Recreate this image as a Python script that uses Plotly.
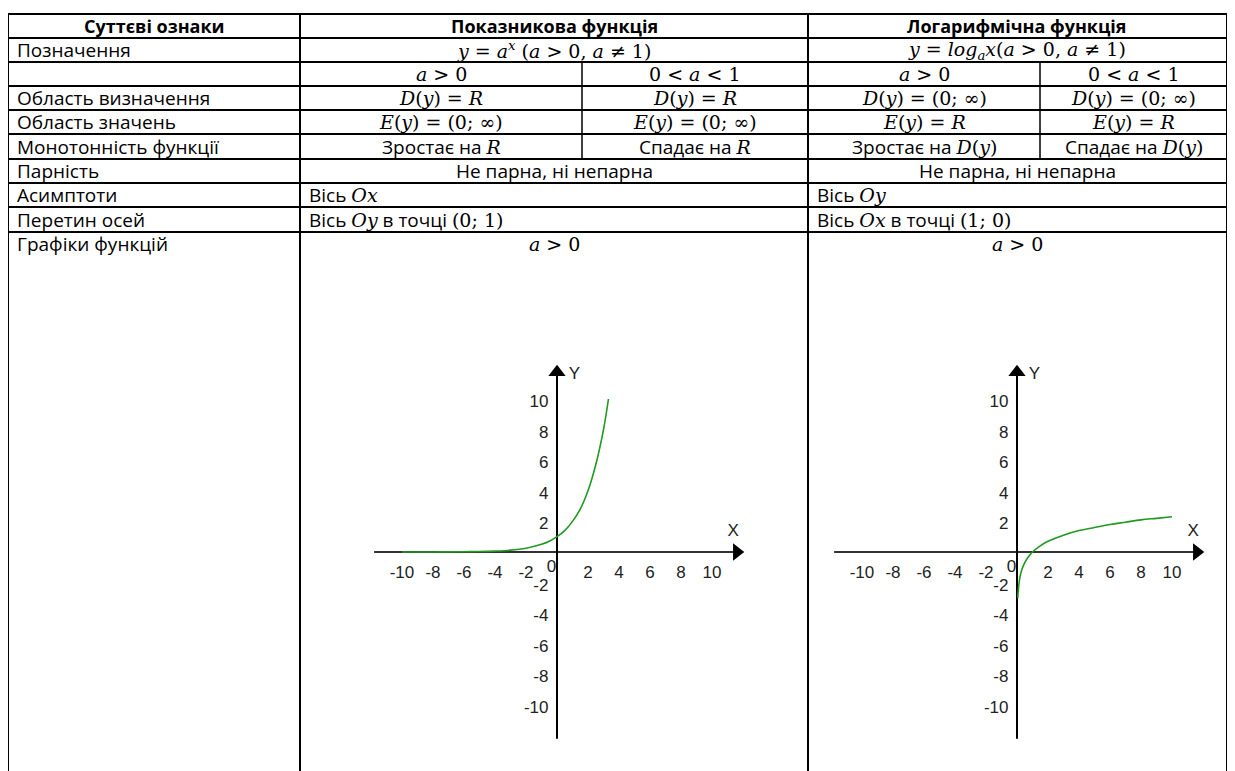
import plotly.graph_objects as go

W, H = 1235, 771
OFF = 8  # the page body margin shifts the plot by 8 px

# ---- table text ----
HEADERS = ["Суттєві ознаки", "Показникова функція", "Логарифмічна функція"]
FEATURES = ["Позначення", "", "Область визначення", "Область значень",
            "Монотонність функції", "Парність", "Асимптоти", "Перетин осей",
            "Графіки функцій"]

SERIF = "DejaVu Serif"
SANS = "Open Sans"


def m(s):
    # inline math piece (Cambria Math look-alike)
    return "<span style='font-family:%s;font-size:19px'>%s</span>" % (SERIF, s)


NOTATION = [m("<i>y</i> = <i>a<sup>x</sup></i> (<i>a</i> &gt; 0, <i>a</i> ≠ 1)"),
            m("<i>y</i> = <i>log<sub>a</sub>x</i>(<i>a</i> &gt; 0, <i>a</i> ≠ 1)")]
CASES = [m("<i>a</i> &gt; 0"), m("0 &lt; <i>a</i> &lt; 1"),
         m("<i>a</i> &gt; 0"), m("0 &lt; <i>a</i> &lt; 1")]
DOMAINS = [m("<i>D</i>(<i>y</i>) = <i>R</i>"), m("<i>D</i>(<i>y</i>) = <i>R</i>"),
           m("<i>D</i>(<i>y</i>) = (0; ∞)"), m("<i>D</i>(<i>y</i>) = (0; ∞)")]
RANGES = [m("<i>E</i>(<i>y</i>) = (0; ∞)"), m("<i>E</i>(<i>y</i>) = (0; ∞)"),
          m("<i>E</i>(<i>y</i>) = <i>R</i>"), m("<i>E</i>(<i>y</i>) = <i>R</i>")]
MONOTONY = ["Зростає на " + m("<i>R</i>"), "Спадає на " + m("<i>R</i>"),
            "Зростає на " + m("<i>D</i>(<i>y</i>)"), "Спадає на " + m("<i>D</i>(<i>y</i>)")]
PARITY = ["Не парна, ні непарна", "Не парна, ні непарна"]
ASYMPTOTES = ["Вісь " + m("<i>Ox</i>"), "Вісь " + m("<i>Oy</i>")]
CROSSING = ["Вісь " + m("<i>Oy</i>") + " в точці " + m("(0; 1)"),
            "Вісь " + m("<i>Ox</i>") + " в точці " + m("(1; 0)")]
GRAPH_TITLES = [m("<i>a</i> &gt; 0"), m("<i>a</i> &gt; 0")]

# ---- graph data ----
EXP_X = [-10, -8, -6, -5, -4, -3, -2, -1, -0.5, 0, 0.5, 1, 1.5, 2, 2.5, 3, 3.32]
EXP_Y = [0.0, 0.0, 0.02, 0.03, 0.06, 0.12, 0.25, 0.5, 0.7, 1.0, 1.4, 2.0, 2.8, 4.0, 5.7, 8.0, 10.0]
LOG_X = [0.05, 0.1, 0.2, 0.3, 0.5, 0.75, 1, 1.5, 2, 3, 4, 5, 6, 7, 8, 9, 10]
LOG_Y = [-3.0, -2.3, -1.6, -1.2, -0.7, -0.3, 0.0, 0.4, 0.7, 1.1, 1.4, 1.6, 1.8, 1.95, 2.1, 2.2, 2.3]

X_TICKS = [-10, -8, -6, -4, -2, 2, 4, 6, 8, 10]
Y_TICKS = [10, 8, 6, 4, 2, -2, -4, -6, -8, -10]

# ---- table geometry (page pixels) ----
ROW_Y = [14, 38, 62, 86, 110, 134, 159, 183, 207, 232]
COL_X = [8, 300, 808, 1227]
SUB_X = [582, 1040]


def px(x):
    return (x - OFF) / W


def py(y):
    return 1 - (y - OFF) / H


shapes = []


def line(x0, y0, x1, y1, w=2):
    shapes.append(dict(type="line", xref="paper", yref="paper",
                       x0=px(x0), y0=py(y0), x1=px(x1), y1=py(y1),
                       line=dict(color="black", width=w)))


for y in ROW_Y:
    line(COL_X[0], y, COL_X[-1], y)
for x in COL_X:
    line(x, ROW_Y[0], x, H + OFF)
for x in SUB_X:
    line(x, ROW_Y[2], x, ROW_Y[6], 1.5)

annotations = []


def cell(text, x0, x1, row, align="center", bold=False):
    if not text:
        return
    yc = (ROW_Y[row] + ROW_Y[row + 1]) / 2 if row + 1 < len(ROW_Y) else ROW_Y[row] + 12
    if align == "center":
        x, anchor = (x0 + x1) / 2, "center"
    else:
        x, anchor = x0 + 7, "left"
    annotations.append(dict(text="<b>%s</b>" % text if bold else text,
                            x=px(x), y=py(yc), xref="paper", yref="paper",
                            xanchor=anchor, yanchor="middle", showarrow=False,
                            font=dict(family=SANS, size=18 if bold else 19, color="black")))


main_cols = [(COL_X[1], COL_X[2]), (COL_X[2], COL_X[3])]
sub_cols = [(COL_X[1], SUB_X[0]), (SUB_X[0], COL_X[2]),
            (COL_X[2], SUB_X[1]), (SUB_X[1], COL_X[3])]

cell(HEADERS[0], COL_X[0], COL_X[1], 0, bold=True)
for (a, b), t in zip(main_cols, HEADERS[1:]):
    cell(t, a, b, 0, bold=True)
for r, f in enumerate(FEATURES, start=1):
    cell(f, COL_X[0], COL_X[1], r, align="left")
for r, texts in [(1, NOTATION), (6, PARITY), (9, GRAPH_TITLES)]:
    for (a, b), t in zip(main_cols, texts):
        cell(t, a, b, r)
for r, texts in [(7, ASYMPTOTES), (8, CROSSING)]:
    for (a, b), t in zip(main_cols, texts):
        cell(t, a, b, r, align="left")
for r, texts in [(2, CASES), (3, DOMAINS), (4, RANGES), (5, MONOTONY)]:
    for (a, b), t in zip(sub_cols, texts):
        cell(t, a, b, r)

# ---- graphs ----
X_UNIT, Y_UNIT = 15.5, 15.3
ORIGIN_Y = 552
ORIGINS_X = [557, 1017]
RNG = 12.5
GREEN = "#209a20"
TICK_FONT = dict(family="Liberation Sans", size=17, color="#222")

fig = go.Figure()
layout_axes = {}
curves = [(EXP_X, EXP_Y), (LOG_X, LOG_Y)]
for i, (ox, (cx, cy)) in enumerate(zip(ORIGINS_X, curves)):
    xa = "x" if i == 0 else "x%d" % (i + 1)
    ya = "y" if i == 0 else "y%d" % (i + 1)
    xdom = [px(ox - RNG * X_UNIT), px(ox + RNG * X_UNIT)]
    ydom = [py(ORIGIN_Y + RNG * Y_UNIT), py(ORIGIN_Y - RNG * Y_UNIT)]
    suffix = "" if i == 0 else str(i + 1)
    layout_axes["xaxis" + suffix] = dict(domain=xdom, range=[-RNG, RNG], visible=False, fixedrange=True)
    layout_axes["yaxis" + suffix] = dict(domain=ydom, range=[-RNG, RNG], visible=False, fixedrange=True)

    # axes with arrow heads
    fig.add_trace(go.Scatter(x=[-11.8, 11.6], y=[0, 0], mode="lines", xaxis=xa, yaxis=ya,
                             line=dict(color="#333", width=2), hoverinfo="skip"))
    fig.add_trace(go.Scatter(x=[0, 0], y=[-12.2, 11.6], mode="lines", xaxis=xa, yaxis=ya,
                             line=dict(color="black", width=2), hoverinfo="skip"))
    fig.add_trace(go.Scatter(x=[11.6], y=[0], mode="markers", xaxis=xa, yaxis=ya,
                             marker=dict(symbol="triangle-right", size=15, color="black"),
                             hoverinfo="skip"))
    fig.add_trace(go.Scatter(x=[0], y=[11.75], mode="markers", xaxis=xa, yaxis=ya,
                             marker=dict(symbol="triangle-up", size=15, color="black"),
                             hoverinfo="skip"))
    # curve
    fig.add_trace(go.Scatter(x=cx, y=cy, mode="lines", xaxis=xa, yaxis=ya,
                             line=dict(color=GREEN, width=1.6, shape="spline"), hoverinfo="skip"))
    # tick labels
    fig.add_trace(go.Scatter(x=X_TICKS, y=[-1.45] * len(X_TICKS), mode="text", xaxis=xa, yaxis=ya,
                             text=[str(t) for t in X_TICKS], textposition="middle center",
                             textfont=TICK_FONT, cliponaxis=False, hoverinfo="skip"))
    fig.add_trace(go.Scatter(x=[-0.55] * len(Y_TICKS), y=[t - 0.25 for t in Y_TICKS], mode="text",
                             xaxis=xa, yaxis=ya, text=[str(t) for t in Y_TICKS],
                             textposition="middle left", textfont=TICK_FONT,
                             cliponaxis=False, hoverinfo="skip"))
    fig.add_trace(go.Scatter(x=[-0.05, 11.0, 0.75], y=[-1.05, 1.3, 11.6], mode="text",
                             xaxis=xa, yaxis=ya, text=["0", "X", "Y"],
                             textposition=["middle left", "middle right", "middle right"],
                             textfont=TICK_FONT, cliponaxis=False, hoverinfo="skip"))

fig.update_layout(width=W, height=H, margin=dict(l=0, r=0, t=0, b=0),
                  paper_bgcolor="white", plot_bgcolor="rgba(0,0,0,0)",
                  showlegend=False, shapes=shapes, annotations=annotations,
                  **layout_axes)

fig.write_html("out.html")
